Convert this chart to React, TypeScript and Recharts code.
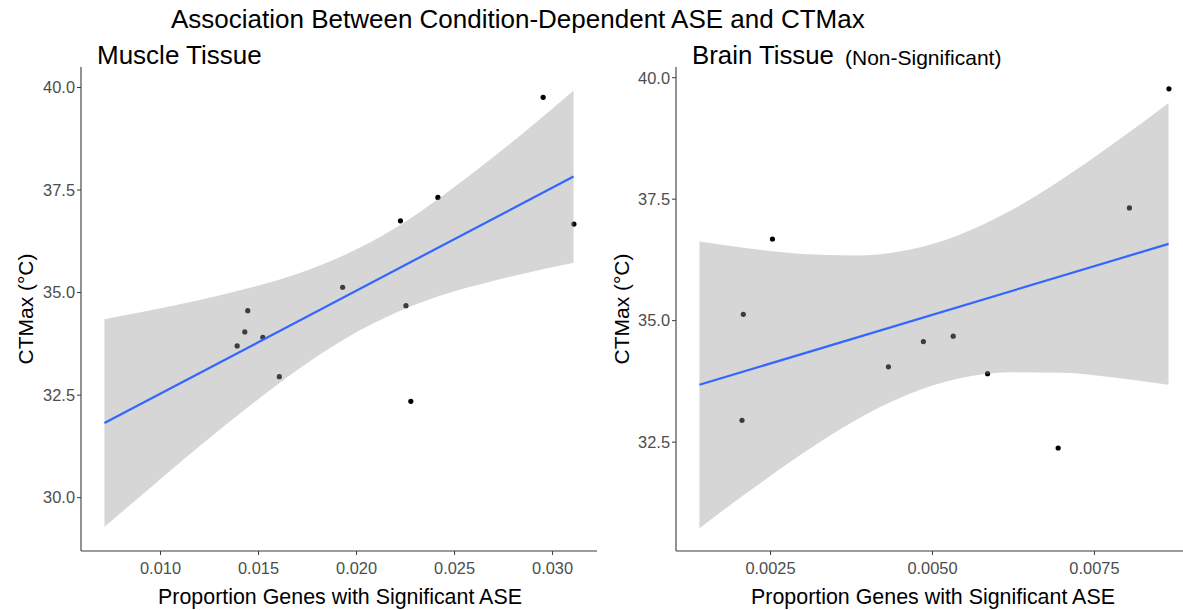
import { ComposedChart, Scatter, Area, Line, XAxis, YAxis } from 'recharts';

const FONT = '"Liberation Sans", Arial, Helvetica, sans-serif';

// Muscle tissue
const muscleX = [0.01445, 0.0143, 0.01391, 0.01522, 0.01606, 0.01929, 0.02252, 0.02277, 0.02224, 0.02415, 0.02952, 0.03109];
const muscleY = [34.56, 34.04, 33.7, 33.91, 32.95, 35.13, 34.68, 32.35, 36.75, 37.32, 39.76, 36.67];
const muscleFitX = [0.00714, 0.03107];
const muscleFitY = [31.82, 37.83];
const muscleBandX = [0.00714, 0.0095, 0.012, 0.0145, 0.017, 0.0195, 0.022, 0.0245, 0.027, 0.0295, 0.03107];
const muscleBandLo = [29.29, 30.25, 31.26, 32.22, 33.12, 33.9, 34.51, 34.96, 35.29, 35.57, 35.73];
const muscleBandHi = [34.35, 34.57, 34.82, 35.11, 35.46, 35.94, 36.58, 37.4, 38.31, 39.29, 39.93];
const muscleXTicks = [0.01, 0.015, 0.02, 0.025, 0.03];
const muscleXLabels = ['0.010', '0.015', '0.020', '0.025', '0.030'];
const muscleYTicks = [30, 32.5, 35, 37.5, 40];
const muscleYLabels = ['30.0', '32.5', '35.0', '37.5', '40.0'];

// Brain tissue
const brainX = [0.00253, 0.00208, 0.00206, 0.00486, 0.00532, 0.00432, 0.00585, 0.00804, 0.00694, 0.00865];
const brainY = [36.68, 35.13, 32.95, 34.57, 34.68, 34.05, 33.91, 37.32, 32.38, 39.77];
const brainFitX = [0.001403, 0.008644];
const brainFitY = [33.68, 36.58];
const brainBandX = [0.001403, 0.0022, 0.003, 0.0038, 0.0046, 0.0054, 0.0062, 0.007, 0.0078, 0.008644];
const brainBandLo = [30.73, 31.52, 32.27, 32.94, 33.47, 33.81, 33.94, 33.93, 33.83, 33.68];
const brainBandHi = [36.63, 36.48, 36.37, 36.34, 36.45, 36.76, 37.26, 37.91, 38.65, 39.48];
const brainXTicks = [0.0025, 0.005, 0.0075];
const brainXLabels = ['0.0025', '0.0050', '0.0075'];
const brainYTicks = [32.5, 35, 37.5, 40];
const brainYLabels = ['32.5', '35.0', '37.5', '40.0'];

type PanelProps = {
  left: number;
  width: number;
  axisWidth: number;
  marginRight: number;
  xDomain: [number, number];
  yDomain: [number, number];
  xTicks: number[];
  xLabels: string[];
  yTicks: number[];
  yLabels: string[];
  xs: number[];
  ys: number[];
  fitX: number[];
  fitY: number[];
  bandX: number[];
  bandLo: number[];
  bandHi: number[];
};

const tickStyle = { fontSize: 16.4, fill: '#4d4d4d', fontFamily: FONT };

function Panel(p: PanelProps) {
  const points = p.xs.map((x, i) => ({ x, y: p.ys[i] }));
  const fit = p.fitX.map((x, i) => ({ x, y: p.fitY[i] }));
  const band = p.bandX.map((x, i) => ({ x, lo: p.bandLo[i], hi: p.bandHi[i] }));
  return (
    <div style={{ position: 'absolute', left: p.left, top: 0 }}>
      <ComposedChart
        width={p.width}
        height={610}
        margin={{ top: 67, right: p.marginRight, bottom: 29, left: 0 }}
      >
        <XAxis
          type="number"
          dataKey="x"
          domain={p.xDomain}
          allowDataOverflow
          ticks={p.xTicks}
          tickFormatter={(v: number) => p.xLabels[p.xTicks.indexOf(v)] ?? String(v)}
          height={30}
          tickSize={4}
          tickMargin={7}
          tick={tickStyle}
          axisLine={{ stroke: '#3a3a3a', strokeWidth: 1.1 }}
          tickLine={{ stroke: '#3a3a3a' }}
        />
        <YAxis
          type="number"
          dataKey="y"
          domain={p.yDomain}
          allowDataOverflow
          ticks={p.yTicks}
          tickFormatter={(v: number) => p.yLabels[p.yTicks.indexOf(v)] ?? String(v)}
          width={p.axisWidth}
          tickSize={4}
          tickMargin={2}
          tick={tickStyle}
          axisLine={{ stroke: '#3a3a3a', strokeWidth: 1.1 }}
          tickLine={{ stroke: '#3a3a3a' }}
        />
        <Scatter
          data={points}
          isAnimationActive={false}
          zIndex={50}
          shape={(s: any) => <circle cx={s.cx} cy={s.cy} r={2.6} fill="#000" />}
        />
        <Area
          data={band}
          dataKey={(d: any) => [d.lo, d.hi]}
          type="monotone"
          stroke="none"
          fill="#999999"
          fillOpacity={0.4}
          isAnimationActive={false}
          activeDot={false}
          zIndex={100}
        />
        <Line
          data={fit}
          dataKey="y"
          type="linear"
          stroke="#3366FF"
          strokeWidth={2.2}
          dot={false}
          activeDot={false}
          isAnimationActive={false}
          zIndex={400}
        />
      </ComposedChart>
    </div>
  );
}

export default function App() {
  return (
    <div
      style={{
        position: 'absolute',
        left: 0,
        top: 0,
        width: 1183,
        height: 610,
        overflow: 'hidden',
        background: '#fff',
        fontFamily: FONT,
      }}
    >
      <Panel
        left={0}
        width={600}
        axisWidth={81}
        marginRight={3}
        xDomain={[0.0059435, 0.0322665]}
        yDomain={[28.7, 40.5]}
        xTicks={muscleXTicks}
        xLabels={muscleXLabels}
        yTicks={muscleYTicks}
        yLabels={muscleYLabels}
        xs={muscleX}
        ys={muscleY}
        fitX={muscleFitX}
        fitY={muscleFitY}
        bandX={muscleBandX}
        bandLo={muscleBandLo}
        bandHi={muscleBandHi}
      />
      <Panel
        left={591}
        width={601}
        axisWidth={85}
        marginRight={0}
        xDomain={[0.001041, 0.009006]}
        yDomain={[30.26, 40.22]}
        xTicks={brainXTicks}
        xLabels={brainXLabels}
        yTicks={brainYTicks}
        yLabels={brainYLabels}
        xs={brainX}
        ys={brainY}
        fitX={brainFitX}
        fitY={brainFitY}
        bandX={brainBandX}
        bandLo={brainBandLo}
        bandHi={brainBandHi}
      />
      <svg
        width={1183}
        height={610}
        style={{ position: 'absolute', left: 0, top: 0, pointerEvents: 'none' }}
        fontFamily={FONT}
      >
        <text x={171} y={28} fontSize={26} fill="#000">
          Association Between Condition-Dependent ASE and CTMax
        </text>
        <text x={97} y={64} fontSize={26} fill="#000">Muscle Tissue</text>
        <text x={692} y={64} fontSize={25.8} fill="#000">Brain Tissue</text>
        <text x={845} y={65} fontSize={21} fill="#000">(Non-Significant)</text>
        <text x={340} y={604} fontSize={21.4} textAnchor="middle" fill="#000">
          Proportion Genes with Significant ASE
        </text>
        <text x={933} y={604} fontSize={21.4} textAnchor="middle" fill="#000">
          Proportion Genes with Significant ASE
        </text>
        <text x={33} y={309} fontSize={21} textAnchor="middle" fill="#000" transform="rotate(-90 33 309)">
          CTMax (°C)
        </text>
        <text x={629} y={309} fontSize={21} textAnchor="middle" fill="#000" transform="rotate(-90 629 309)">
          CTMax (°C)
        </text>
      </svg>
    </div>
  );
}
